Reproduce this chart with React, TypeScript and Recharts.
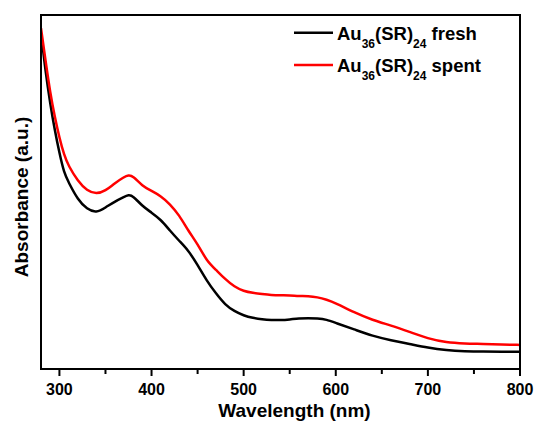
import React from "react";
import { LineChart, Line, XAxis, YAxis } from "recharts";

// UV-vis absorption spectra of Au36(SR)24 clusters (arbitrary absorbance units)
const wavelengths = [
  280, 285, 290, 295, 300, 305, 310, 320, 330, 340, 350, 360, 370, 375, 380, 390,
  400, 410, 420, 430, 440, 450, 460, 470, 480, 490, 500, 510, 520, 530, 540, 550,
  560, 570, 580, 590, 600, 620, 640, 660, 680, 700, 720, 740, 760, 780, 800,
];
const freshAbs = [
  0.949, 0.839, 0.749, 0.674, 0.61, 0.554, 0.527, 0.478, 0.451, 0.441, 0.456, 0.473, 0.486, 0.492, 0.489, 0.46,
  0.442, 0.422, 0.391, 0.362, 0.335, 0.294, 0.249, 0.213, 0.181, 0.163, 0.151, 0.144, 0.14, 0.138, 0.138, 0.14,
  0.143, 0.144, 0.143, 0.14, 0.13, 0.112, 0.093, 0.081, 0.071, 0.06, 0.053, 0.05, 0.049, 0.049, 0.049,
];
const spentAbs = [
  0.963, 0.87, 0.78, 0.712, 0.653, 0.605, 0.573, 0.531, 0.503, 0.494, 0.503, 0.525, 0.542, 0.548, 0.545, 0.517,
  0.503, 0.489, 0.466, 0.435, 0.39, 0.353, 0.305, 0.28, 0.254, 0.232, 0.22, 0.215, 0.212, 0.209, 0.208, 0.208,
  0.206, 0.206, 0.203, 0.196, 0.186, 0.16, 0.138, 0.123, 0.105, 0.086, 0.075, 0.072, 0.071, 0.069, 0.068,
];
const majorTicks = [300, 400, 500, 600, 700, 800];
const allTicks = [300, 350, 400, 450, 500, 550, 600, 650, 700, 750, 800];
const wlDomain = [280, 800];
const absDomain = [0, 1];

const series = [
  { key: "fresh", color: "#000000", base: "Au", sub1: "36", mid: "(SR)", sub2: "24", tail: " fresh" },
  { key: "spent", color: "#ff0000", base: "Au", sub1: "36", mid: "(SR)", sub2: "24", tail: " spent" },
];

const data = wavelengths.map((wl, i) => ({ wl, fresh: freshAbs[i], spent: spentAbs[i] }));

const W = 539;
const H = 423;
// plot box edges in pixels
const PLOT = { left: 41, top: 15, right: 520, bottom: 369 };
const X_AXIS_H = 30;
const Y_AXIS_W = 1;

const FONT = "'Liberation Sans', Arial, sans-serif";

function WavelengthTick(props: any) {
  const { x, y, payload } = props;
  const major = majorTicks.includes(payload.value);
  return (
    <g>
      <line x1={x} x2={x} y1={y} y2={y + (major ? 7 : 5)} stroke="#000" strokeWidth={2} />
      {major && (
        <text x={x} y={y + 25.5} textAnchor="middle" fontFamily={FONT} fontWeight="bold" fontSize={16} fill="#000">
          {payload.value}
        </text>
      )}
    </g>
  );
}

function XTitle(props: any) {
  const vb = props.viewBox;
  return (
    <text x={vb.x + vb.width / 2 + 14} y={416.5} textAnchor="middle" fontFamily={FONT} fontWeight="bold" fontSize={19} fill="#000">
      Wavelength (nm)
    </text>
  );
}

function YTitle(props: any) {
  const vb = props.viewBox;
  const cx = 28;
  const cy = vb.y + vb.height / 2 + 5;
  return (
    <text x={cx} y={cy} transform={`rotate(-90, ${cx}, ${cy})`} textAnchor="middle" fontFamily={FONT} fontWeight="bold" fontSize={19} fill="#000">
      Absorbance (a.u.)
    </text>
  );
}

function SpectraLegend() {
  return (
    <svg width={W} height={H} style={{ position: "absolute", left: 0, top: 0, pointerEvents: "none" }}>
      {series.map((s, i) => {
        const y = 32.7 + i * 32.3;
        return (
          <g key={s.key}>
            <line x1={294} x2={333} y1={y} y2={y} stroke={s.color} strokeWidth={2.5} />
            <text x={337} y={y + 6.8} fontFamily={FONT} fontWeight="bold" fontSize={18.5} fill="#000">
              <tspan>{s.base}</tspan>
              <tspan dy={8} fontSize={12}>{s.sub1}</tspan>
              <tspan dy={-8}>{s.mid}</tspan>
              <tspan dy={8} fontSize={12}>{s.sub2}</tspan>
              <tspan dy={-8}>{s.tail}</tspan>
            </text>
          </g>
        );
      })}
    </svg>
  );
}

export default function App() {
  return (
    <div style={{ position: "absolute", left: 0, top: 0, width: W, height: H, background: "#fff" }}>
      <LineChart
        width={W}
        height={H}
        data={data}
        margin={{
          top: PLOT.top,
          right: W - PLOT.right,
          bottom: H - PLOT.bottom - X_AXIS_H,
          left: PLOT.left - Y_AXIS_W,
        }}
      >
        <XAxis
          dataKey="wl"
          type="number"
          domain={wlDomain}
          ticks={allTicks}
          interval={0}
          allowDataOverflow
          height={X_AXIS_H}
          stroke="#000"
          strokeWidth={2}
          tickLine={false}
          tickSize={0}
          tickMargin={0}
          tick={<WavelengthTick />}
          label={<XTitle />}
        />
        <YAxis type="number" domain={absDomain} width={Y_AXIS_W} tick={false} tickLine={false} stroke="#000" strokeWidth={2} allowDataOverflow label={<YTitle />} />
        {series.map((s) => (
          <Line key={s.key} dataKey={s.key} type="basis" stroke={s.color} strokeWidth={2.5} dot={false} isAnimationActive={false} />
        ))}
      </LineChart>
      {/* box around the plot area */}
      <div
        style={{
          position: "absolute",
          left: PLOT.left - 1,
          top: PLOT.top - 1,
          width: PLOT.right - PLOT.left + 2,
          height: PLOT.bottom - PLOT.top + 2,
          border: "2px solid #000",
          boxSizing: "border-box",
          pointerEvents: "none",
        }}
      />
      <SpectraLegend />
    </div>
  );
}
